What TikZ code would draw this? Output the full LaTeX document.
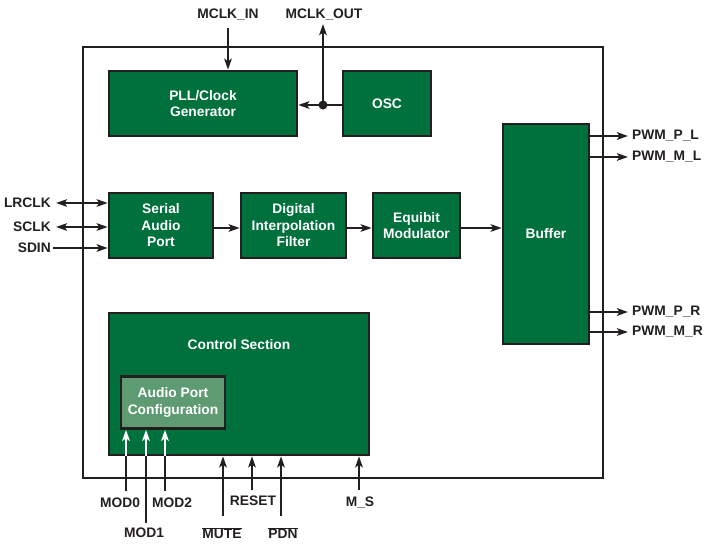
\documentclass[tikz,border=0pt]{standalone}
\usepackage{fontspec}
\setmainfont{Liberation Sans}
\usetikzlibrary{arrows.meta}
\definecolor{adgreen}{HTML}{00703C}
\definecolor{adlight}{HTML}{5E9A72}
\definecolor{adline}{HTML}{231F20}
\begin{document}
\begin{tikzpicture}[x=1pt,y=-1pt,
  blk/.style={draw=adline,line width=2.6pt,fill=adgreen,text=white,font=\bfseries\fontsize{13.8}{16.5}\selectfont,align=center,inner sep=0pt},
  lbl/.style={font=\bfseries\fontsize{13.8}{16}\selectfont,text=adline,inner sep=0pt},
  sig/.style={draw=adline,line width=2.2pt,-{Stealth[length=11pt,width=7.5pt,inset=2.5pt]}},
  dsig/.style={draw=adline,line width=2.2pt,{Stealth[length=11pt,width=7.5pt,inset=2.5pt]}-{Stealth[length=11pt,width=7.5pt,inset=2.5pt]}},
  wsig/.style={draw=white,line width=2.2pt,-{Stealth[length=11pt,width=7.5pt,inset=2.5pt]}},
  bline/.style={draw=adline,line width=2.2pt}]
\useasboundingbox (0,0) rectangle (704,544);
% outer chip box
\draw[adline,line width=2.4pt] (83,47) rectangle (603,478);
% blocks
\node[blk,minimum width=188pt,minimum height=65pt] (pll) at (203,103.5) {PLL/Clock\\Generator};
\node[blk,minimum width=88pt,minimum height=65pt] (osc) at (387,103.5) {OSC};
\node[blk,minimum width=104pt,minimum height=65pt] (sap) at (161,225.5) {Serial\\Audio\\Port};
\node[blk,minimum width=105pt,minimum height=65pt] (dif) at (293.5,225.5) {Digital\\Interpolation\\Filter};
\node[blk,minimum width=87pt,minimum height=65pt] (eqm) at (416.5,225.5) {Equibit\\Modulator};
\node[blk,minimum width=86pt,minimum height=220pt] (buf) at (546,234) {Buffer};
\node[blk,minimum width=260pt,minimum height=142pt] (ctl) at (239,384) {};
\node[blk,draw=none,fill=none] (ctllbl) at (239,345) {Control Section};
\node[blk,fill=adlight,minimum width=104pt,minimum height=52pt] (apc) at (173,402.5) {Audio Port\\Configuration};
% top signals
\node[lbl] (mclkin) at (228,15) {MCLK\_IN};
\node[lbl] (mclkout) at (324,15) {MCLK\_OUT};
\coordinate (mclkinS) at (228,28);
\draw[sig] (mclkinS) -- (pll.north -| mclkinS);
\coordinate (jn) at (323,105);
\draw[sig] (osc.west |- jn) -- (pll.east |- jn);
\coordinate (mclkoutE) at (323,24);
\draw[sig] (jn) -- (mclkoutE);
\fill[adline] (jn) circle (4.5pt);
% internal data path
\coordinate (dp) at (0,228);
\draw[sig] (sap.east |- dp) -- (dif.west |- dp);
\draw[sig] (dif.east |- dp) -- (eqm.west |- dp);
\draw[sig] (eqm.east |- dp) -- (buf.west |- dp);
% left signals
\node[lbl,anchor=east] (lrclk) at (51,203) {LRCLK};
\node[lbl,anchor=east] (sclk) at (51,227) {SCLK};
\node[lbl,anchor=east] (sdin) at (51,248) {SDIN};
\coordinate (lrA) at (56,203);
\coordinate (scA) at (56,227);
\coordinate (sdA) at (53,248);
\draw[dsig] (lrA) -- (sap.west |- lrA);
\draw[dsig] (scA) -- (sap.west |- scA);
\draw[sig] (sdA) -- (sap.west |- sdA);
% right signals
\node[lbl,anchor=west] (ppl) at (632,136) {PWM\_P\_L};
\node[lbl,anchor=west] (pml) at (632,157) {PWM\_M\_L};
\node[lbl,anchor=west] (ppr) at (632,312) {PWM\_P\_R};
\node[lbl,anchor=west] (pmr) at (632,332) {PWM\_M\_R};
\foreach \n in {ppl,pml,ppr,pmr}{
  \draw[sig] (buf.east |- \n.west) -- ([xshift=-4pt]\n.west);
}
% bottom signals
\node[lbl] (mod0) at (120,503) {MOD0};
\node[lbl] (mod2) at (172,503) {MOD2};
\node[lbl] (mod1) at (144,533) {MOD1};
\node[lbl] (reset) at (253,501) {RESET};
\node[lbl] (ms) at (360,503) {M\_S};
\node[lbl] (mute) at (222,533) {$\overline{\mbox{MUTE}}$};
\node[lbl] (pdn) at (283,533) {$\overline{\mbox{PDN}}$};
% MOD lines: black outside control section, white inside
\coordinate (m0S) at (126,491);
\coordinate (m1S) at (146,523);
\coordinate (m2S) at (165,491);
\foreach \c in {m0S,m1S,m2S}{
  \draw[bline] (\c) -- (\c |- ctl.south);
  \draw[wsig] (\c |- ctl.south) -- (\c |- apc.south);
}
\coordinate (muteS) at (223,516);
\coordinate (resetS) at (252,490);
\coordinate (pdnS) at (281,516);
\coordinate (msS) at (359,490);
\foreach \c in {muteS,resetS,pdnS,msS}{
  \draw[sig] (\c) -- (\c |- ctl.south);
}
\end{tikzpicture}
\end{document}
